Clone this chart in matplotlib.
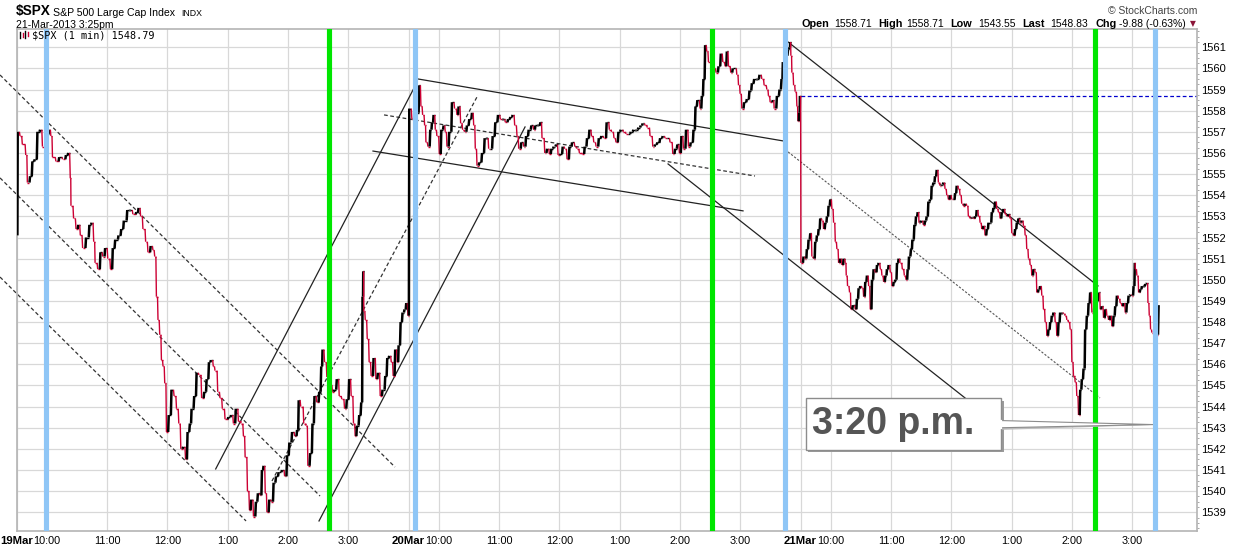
import matplotlib
matplotlib.use("Agg")
import matplotlib.pyplot as plt
from matplotlib.collections import LineCollection
from matplotlib.patches import Rectangle, Polygon
from matplotlib.lines import Line2D

plt.rcParams['font.family'] = ['Liberation Sans', 'DejaVu Sans']

W, H = 1238, 549
DAY = 390  # minutes in a session, 9:30 - 16:00

day_names = ["19Mar", "20Mar", "21Mar"]
hour_names = ["10:00", "11:00", "12:00", "1:00", "2:00", "3:00"]
hour_mins = [30, 90, 150, 210, 270, 330]
price_ticks = list(range(1539, 1562))

# (minutes after 9:30, price)
mar19 = [
    (0, 1552.1), (1, 1557.0), (3.3, 1556.8), (5.6, 1556.4), (9, 1555.9), (10.6, 1554.6), (13.3, 1554.9),
    (15.6, 1555.6), (18, 1555.7), (20.6, 1557.0), (23.3, 1557.1), (25.6, 1556.3), (29, 1556.9), (32.3, 1557.1),
    (34, 1556.8), (35.6, 1555.8), (39, 1555.6), (42.3, 1555.8), (45.6, 1555.7), (49, 1555.9), (51.3, 1556.0),
    (53.3, 1554.8), (54, 1553.5), (56.6, 1552.9), (59, 1552.4), (61.3, 1552.6), (63.3, 1552.1), (65.6, 1551.5),
    (69, 1552.0), (72.3, 1552.6), (74.6, 1552.7), (76.6, 1551.8), (78, 1550.8), (80.6, 1550.5), (83.3, 1551.3),
    (85.6, 1551.1), (88, 1551.5), (90.6, 1551.0), (93.3, 1550.5), (95.6, 1551.5), (98, 1551.9), (101.3, 1552.1),
    (104, 1552.4), (106.6, 1552.8), (110, 1553.3), (112.3, 1553.3), (115.6, 1553.1), (119, 1553.2),
    (121.3, 1553.4), (123.3, 1553.0), (125.6, 1552.4), (128.3, 1551.8), (130.6, 1551.3), (133.3, 1551.6),
    (135.6, 1551.4), (137.3, 1551.1), (139, 1549.2), (140.6, 1548.1), (142.3, 1547.4), (144, 1546.2),
    (145.6, 1545.9), (147.3, 1545.1), (149, 1542.8), (151.3, 1543.6), (154, 1544.8), (156.6, 1544.5),
    (159, 1543.9), (161.3, 1543.2), (163.3, 1542.0), (165.6, 1542.1), (168, 1541.5), (170, 1542.8),
    (172.3, 1543.2), (174, 1543.9), (176.6, 1544.5), (179, 1545.6), (181.3, 1545.5), (184, 1544.4),
    (186.6, 1544.7), (189, 1545.3), (191.3, 1546.1), (193.3, 1546.2), (195.6, 1545.9), (197.3, 1545.7),
    (200, 1544.7), (202.3, 1544.4), (204.6, 1543.9), (207.3, 1543.4), (210.6, 1543.5), (213.3, 1543.6),
    (215.6, 1543.2), (218, 1543.9), (220.6, 1543.3), (223.3, 1543.2), (225.6, 1542.6), (227.3, 1541.6),
    (229.6, 1540.0), (231.6, 1539.1), (233.3, 1539.6), (235.6, 1538.8), (238, 1539.5), (240, 1539.9),
    (242.3, 1539.8), (244, 1541.0), (245.6, 1541.2), (247.3, 1539.9), (249, 1539.0), (251.3, 1539.6),
    (253.3, 1539.5), (255.6, 1540.4), (258, 1540.7), (260.6, 1540.9), (264, 1541.0), (266.6, 1540.7),
    (269, 1541.7), (271.3, 1542.3), (274, 1542.8), (276.6, 1542.6), (279, 1542.9), (280.6, 1544.3),
    (282.6, 1544.0), (285.6, 1543.2), (288, 1543.1), (289.7, 1541.2), (292, 1541.8), (294.3, 1543.2),
    (296.3, 1544.5), (298.6, 1544.2), (301, 1544.7), (303, 1545.9), (304.3, 1546.7), (306.3, 1546.1),
    (308.6, 1545.4), (311.5, 1545.0), (314.2, 1544.7), (316.2, 1544.8), (318.5, 1545.3), (320.9, 1544.5),
    (323.5, 1544.35), (326.2, 1543.9), (328.5, 1544.35), (330.8, 1545.3), (332.8, 1544.5), (335.1, 1543.2),
    (336.8, 1542.6), (338.5, 1543.1), (340.8, 1543.6), (342.8, 1544.2), (344.1, 1549.2), (344.8, 1550.4),
    (345.4, 1548.5), (346.8, 1548.1), (348.8, 1547.2), (350.7, 1546.1), (352.7, 1545.45), (355.1, 1546.3),
    (357.4, 1545.3), (359.4, 1545.6), (361.7, 1544.5), (364, 1544.8), (366.7, 1545.45), (368.7, 1546.3),
    (370.7, 1546.4), (372.7, 1546.1), (374.6, 1545.45), (376.6, 1546.7), (378.6, 1546.1), (380, 1546.9),
    (382, 1548.0), (383.9, 1548.45), (385.9, 1548.6), (387.6, 1548.9), (389.3, 1548.3),
]
mar20 = [
    (0.6, 1558.1), (3.2, 1557.6), (6, 1557.9), (10.5, 1559.2), (12.2, 1558.2), (13.9, 1557.8), (15.9, 1557.3),
    (17.2, 1556.5), (19.2, 1556.3), (21.5, 1557.1), (23.2, 1557.45), (24.8, 1557.8), (26.5, 1557.1),
    (28.1, 1556.8), (30.5, 1555.95), (32.5, 1557.1), (34.8, 1557.3), (36.4, 1557.0), (38.1, 1556.3),
    (40.4, 1557.0), (43.1, 1558.4), (45.7, 1558.1), (48.1, 1557.8), (49.7, 1558.2), (51.7, 1557.4),
    (53.7, 1557.1), (55.7, 1557.0), (58, 1557.3), (60.3, 1557.6), (63, 1557.9), (64.7, 1557.3), (66.3, 1556.2),
    (68, 1555.4), (70.3, 1555.55), (73, 1556.0), (75.6, 1556.7), (77.9, 1556.7), (79.6, 1556.2), (81.3, 1556.2),
    (83.6, 1556.8), (86.2, 1557.45), (88.9, 1557.8), (91.2, 1557.6), (93.5, 1557.6), (96.2, 1557.45),
    (98.9, 1557.6), (101.2, 1557.7), (103.5, 1557.8), (105.5, 1557.3), (107.8, 1556.8), (109.5, 1556.2),
    (112.1, 1556.5), (114.5, 1556.3), (116.8, 1556.8), (119.4, 1557.1), (122.1, 1557.3), (124.4, 1557.1),
    (126.1, 1557.3), (128.7, 1557.3), (131.1, 1557.45), (132.7, 1556.7), (135.4, 1556.0), (137.7, 1556.2),
    (140, 1555.95), (142, 1556.2), (144.3, 1556.3), (146.7, 1556.4), (148.7, 1555.9), (151, 1555.95),
    (153.3, 1556.3), (155.3, 1556.2), (157.6, 1555.7), (160, 1556.3), (162.6, 1556.5), (165.3, 1556.3),
    (167.6, 1556.2), (169.9, 1556.0), (172.6, 1555.95), (175.2, 1556.3), (177.5, 1556.7), (179.9, 1557.1),
    (181.9, 1556.8), (184.2, 1556.5), (186.5, 1556.3), (189.2, 1556.7), (191.8, 1556.8), (194.1, 1556.7),
    (197, 1557.45), (199.7, 1557.1), (202, 1557.0), (204.3, 1556.7), (206.3, 1556.5), (208.7, 1557.0),
    (211, 1557.1), (213.6, 1557.0), (216.3, 1556.9), (218.6, 1556.9), (221, 1557.0), (223.6, 1557.1),
    (226.3, 1557.1), (228.6, 1557.2), (230.9, 1557.3), (232.9, 1557.4), (235.2, 1557.3), (237.5, 1557.2),
    (240.2, 1556.8), (242.9, 1556.3), (245.2, 1556.4), (247.5, 1556.5), (250.2, 1556.7), (252.8, 1556.8),
    (255.1, 1556.7), (257.5, 1556.7), (260.1, 1556.5), (262.8, 1555.95), (265.1, 1556.2), (267.4, 1556.4),
    (269.4, 1556.0), (271.4, 1556.8), (273.4, 1556.2), (276, 1557.1), (278.4, 1556.3), (280.7, 1556.5),
    (283.4, 1557.1), (285.4, 1558.2), (287.3, 1558.5), (290, 1558.1), (291.7, 1558.7), (293.3, 1559.5),
    (295, 1561.1), (296.6, 1560.8), (298.3, 1560.3), (302, 1560.0), (305.9, 1559.8), (308.3, 1560.1),
    (310.6, 1560.7), (312.6, 1560.3), (314.9, 1560.1), (316.6, 1560.8), (318.2, 1560.1), (320.5, 1559.8),
    (322.5, 1560.0), (324.9, 1560.0), (326.5, 1559.7), (328.2, 1559.2), (329.8, 1558.8), (331.5, 1558.1),
    (333.8, 1558.4), (336.5, 1558.55), (339.1, 1558.95), (341.5, 1559.3), (343.8, 1559.5), (346.4, 1559.5),
    (349.1, 1559.7), (351.4, 1559.5), (353.7, 1559.2), (356.4, 1559.0), (358, 1558.7), (359.7, 1558.4),
    (362.4, 1558.5), (363.7, 1558.1), (366.4, 1558.7), (369, 1559.0), (371, 1559.5), (372.3, 1560.3),
    (375, 1560.6), (377.5, 1560.9), (379, 1561.0), (379.6, 1561.25), (380.3, 1560.6), (381.3, 1559.8),
    (383, 1559.2), (384.6, 1558.9), (386.3, 1558.2), (387.3, 1557.5), (388.6, 1557.9), (389.3, 1558.7),
]
mar21 = [
    (0.3, 1550.8), (2.9, 1551.1), (4.6, 1551.0), (6.2, 1551.45), (7.9, 1551.9), (9.6, 1552.2), (11.2, 1551.1),
    (12.9, 1551.0), (14.5, 1551.8), (16.2, 1552.1), (17.9, 1552.4), (19.5, 1552.9), (21.2, 1552.8),
    (22.8, 1552.4), (24.5, 1552.7), (26.2, 1553.0), (27.8, 1553.5), (29.5, 1553.8), (31.1, 1553.35),
    (32.8, 1552.7), (34.5, 1551.8), (36.1, 1551.45), (37.8, 1550.8), (39.4, 1551.0), (41.1, 1550.7),
    (42.8, 1551.0), (44.4, 1550.8), (45.4, 1550.2), (46.7, 1549.7), (48.7, 1549.4), (50, 1548.6), (52, 1548.8),
    (54.4, 1548.6), (56, 1549.1), (57.7, 1549.6), (59.4, 1549.7), (61, 1549.6), (62.7, 1549.2), (64.3, 1549.9),
    (66, 1550.2), (67.7, 1549.7), (69.3, 1548.6), (71, 1550.0), (72.6, 1550.5), (74.3, 1550.35), (76, 1550.7),
    (77.6, 1550.8), (79.3, 1550.5), (80.9, 1550.2), (82.6, 1549.9), (84.3, 1550.2), (85.9, 1550.5),
    (87.6, 1550.7), (89.2, 1550.35), (90.9, 1549.7), (92.6, 1549.9), (94.2, 1550.0), (95.9, 1550.8),
    (97.5, 1551.0), (98.9, 1550.8), (101.2, 1550.5), (103.2, 1550.2), (104.9, 1550.0), (106.5, 1550.5),
    (107.8, 1551.1), (109.8, 1551.45), (111.2, 1551.9), (113.2, 1552.6), (114.8, 1553.0), (116.5, 1553.2),
    (117.8, 1552.7), (119.8, 1552.8), (122.1, 1552.6), (123.8, 1552.8), (125.4, 1553.0), (127.1, 1553.7),
    (128.8, 1553.8), (130.4, 1554.45), (132.1, 1554.6), (133.7, 1554.9), (135.4, 1555.2), (137.1, 1554.6),
    (138.7, 1554.45), (140.4, 1554.5), (142, 1554.6), (143.7, 1554.3), (145.4, 1554.0), (147, 1553.8),
    (148.7, 1554.0), (150.3, 1553.8), (152, 1553.8), (153.7, 1554.1), (155.3, 1554.45), (157, 1554.3),
    (158.6, 1554.0), (160.3, 1553.6), (162, 1553.5), (163.6, 1553.6), (165.3, 1553.5), (166.9, 1553.0),
    (168.6, 1552.9), (170.3, 1552.95), (171.9, 1552.9), (173.6, 1553.0), (175.2, 1553.3), (176.9, 1553.0),
    (178.6, 1552.7), (180.2, 1552.4), (181.9, 1552.55), (183.5, 1552.1), (185.2, 1552.4), (186.9, 1552.7),
    (188.5, 1552.7), (190.2, 1553.2), (191.8, 1553.4), (193.5, 1553.7), (195.2, 1553.35), (196.8, 1553.2),
    (198.5, 1552.9), (200.1, 1553.2), (201.8, 1553.35), (203.5, 1553.1), (205.1, 1553.0), (206.8, 1553.1),
    (208.4, 1552.9), (210.1, 1552.2), (211.8, 1552.1), (213.4, 1552.4), (215.1, 1552.7), (216.7, 1552.9),
    (218.4, 1552.7), (220.1, 1552.8), (221.7, 1552.55), (223.4, 1552.1), (225, 1551.45), (226.7, 1551.0),
    (228.4, 1550.7), (230, 1550.2), (231.7, 1550.5), (233.3, 1550.35), (235, 1549.4), (236.7, 1549.55),
    (238.3, 1549.7), (240, 1549.25), (241.6, 1548.6), (243.3, 1548.0), (245, 1547.35), (246.6, 1547.65),
    (248.3, 1548.0), (249.9, 1548.3), (251.6, 1548.45), (253.3, 1548.0), (254.9, 1547.35), (256.6, 1548.0),
    (258.2, 1548.45), (259.9, 1548.45), (261.6, 1548.4), (263.2, 1548.3), (264.9, 1548.1), (266.5, 1548.0),
    (268.2, 1547.65), (269.9, 1546.1), (271.5, 1545.45), (273.2, 1545.15), (274.8, 1544.5), (276.5, 1543.6),
    (278.2, 1544.8), (279.8, 1545.3), (281.5, 1545.8), (283.1, 1547.65), (284.8, 1548.3), (286.5, 1548.9),
    (288.1, 1549.4), (289.8, 1548.45), (292.5, 1549.0), (296.4, 1549.4), (298.1, 1548.6), (299.7, 1548.75),
    (301.4, 1548.2), (303.1, 1548.6), (304.7, 1548.3), (306.4, 1548.1), (308, 1548.3), (309.7, 1547.8),
    (311.4, 1548.3), (313, 1548.75), (314.7, 1549.25), (316.3, 1549.1), (318, 1548.9), (319.7, 1548.75),
    (321.3, 1548.9), (323, 1548.45), (324.6, 1548.9), (326.3, 1549.25), (328, 1549.3), (329.6, 1549.25),
    (331.3, 1549.7), (332.5, 1550.8), (333, 1550.5), (334.6, 1550.2), (336.3, 1549.4), (337.9, 1549.55),
    (339.6, 1549.7), (341.2, 1549.7), (342.9, 1549.8), (344.6, 1549.85), (345.6, 1548.9), (346.9, 1548.3),
    (348.2, 1547.65), (349.5, 1547.5), (352, 1547.4), (356.2, 1548.8),
]

open_21 = 1558.71

# marker bars, in minutes counted from 19Mar 9:30
blue_marks = [29, 396.3, 764.8, 1132.9]
green_marks = [310.7, 692.2, 1073.2]

# drawn trend lines: (x0, p0, x1, p1)
dashed_lines = [
    (-16.6, 1559.69, 376.4, 1541.14),
    (-16.6, 1554.82, 301.8, 1539.77),
    (-16.6, 1550.13, 228.2, 1538.59),
    (254.0, 1540.48, 459.0, 1558.74),
    (365.5, 1557.80, 734.6, 1554.91),
]
solid_lines = [
    (198.0, 1541.05, 395.3, 1559.07),
    (300.8, 1538.59, 505.8, 1557.23),
    (399.3, 1559.50, 762.5, 1556.57),
    (354.5, 1556.09, 722.7, 1553.26),
    (648.1, 1555.48, 943.6, 1544.41),
    (767.5, 1561.25, 1075.9, 1549.71),
]
dotted_lines = [
    (767.5, 1556.05, 1077.9, 1544.41),
]

RED = '#cc0033'
GRID = '#d8d8d8'
FRAME = '#b4b4b4'

fig = plt.figure(figsize=(W / 100, H / 100), dpi=100)
ax = fig.add_axes([16.7 / W, (H - 531) / H, (1197 - 16.7) / W, (531 - 29.3) / H])
ax.set_xlim(0, 1174.4)
ax.set_ylim(1538.115, 1561.85)

for s in ax.spines.values():
    s.set_color(FRAME)
    s.set_linewidth(1.2)

# grid
grid_x = []
for d in range(3):
    grid_x.append(d * DAY)
    grid_x += [d * DAY + m for m in hour_mins]
for gx in grid_x:
    ax.axvline(gx, color=GRID, lw=0.9, zorder=0)
for p in price_ticks:
    ax.axhline(p, color=GRID, lw=0.9, zorder=0)

ax.set_xticks([])
ax.yaxis.tick_right()
ax.set_yticks(price_ticks)
ax.set_yticklabels([str(p) for p in price_ticks])
ax.set_yticks([p + f for p in range(1538, 1562) for f in (0.25, 0.5, 0.75)], minor=True)
ax.tick_params(axis='y', which='major', length=0, pad=3, labelsize=8)
ax.tick_params(axis='y', which='minor', length=1.5, width=0.6, color='#999999')

# x labels
lab_y = -(541 - 531) / (531 - 29.3)
for d, name in enumerate(day_names):
    ax.text(d * DAY, lab_y, name, transform=ax.get_xaxis_transform(), ha='center', va='center',
            fontsize=8.2, fontweight='bold', clip_on=False)
    for m, hn in zip(hour_mins, hour_names):
        ax.text(d * DAY + m, lab_y, hn, transform=ax.get_xaxis_transform(), ha='center', va='center',
                fontsize=7.8, clip_on=False)

# price path, drawn as steps so it reads like 1-min bars
xs, ys = [], []
for d, day in enumerate([mar19, mar20, mar21]):
    for m, p in day:
        xs.append(d * DAY + m)
        ys.append(p)
segs, cols, lws = [], [], []
prev_col = 'black'
for i in range(1, len(xs)):
    up = ys[i] >= ys[i - 1]
    col = 'black' if up else RED
    # short flat piece then the move
    xm = xs[i] - min(0.6, (xs[i] - xs[i - 1]) * 0.3)
    segs.append([(xs[i - 1], ys[i - 1]), (xm, ys[i - 1])])
    cols.append(prev_col)
    lws.append(1.0)
    segs.append([(xm, ys[i - 1]), (xs[i], ys[i])])
    cols.append(col)
    lws.append(1.8 if up else 1.0)
    prev_col = col
ax.add_collection(LineCollection(segs, colors=cols, linewidths=lws, zorder=3, capstyle='butt'))

# trend lines
for x0, p0, x1, p1 in dashed_lines:
    ax.plot([x0, x1], [p0, p1], color='#333333', lw=0.9, dashes=(3, 2), zorder=2, clip_on=False)
for x0, p0, x1, p1 in solid_lines:
    ax.plot([x0, x1], [p0, p1], color='#222222', lw=0.9, zorder=2)
for x0, p0, x1, p1 in dotted_lines:
    ax.plot([x0, x1], [p0, p1], color='#555555', lw=0.8, dashes=(2, 1.5), zorder=2)

ax.plot([2 * DAY, 1174.4], [open_21, open_21], color='#0000cc', lw=0.9, dashes=(3, 2), zorder=2)

# marker bars
for b in blue_marks:
    ax.axvline(b, color='#8fc6f6', lw=3.7, zorder=5)
for g in green_marks:
    ax.axvline(g, color='#00e600', lw=3.7, zorder=5)

# callout "3:20 p.m."
ax.add_patch(Rectangle((787.5, 1541.83), 194.4, 2.44, facecolor='#9a9a9a', edgecolor='none', zorder=6))
ax.add_patch(Rectangle((785.1, 1541.95), 194.3, 2.44, facecolor='white', edgecolor='#8c8c8c', lw=1.0, zorder=7))
ax.add_patch(Polygon([(979.4, 1543.32), (1130.6, 1543.13), (979.4, 1542.90)], closed=True,
                     facecolor='#bdbdbd', edgecolor='none', zorder=6))
ax.add_patch(Polygon([(979.4, 1543.34), (1130.6, 1543.15), (979.4, 1543.0)], closed=True,
                     facecolor='white', edgecolor='#8c8c8c', lw=0.8, zorder=7))
ax.plot([979.0, 979.0], [1543.0, 1543.32], color='white', lw=1.6, zorder=8)
ax.text(872, 1543.17, "3:20 p.m.", ha='center', va='center', fontsize=27, fontweight='bold',
        color='#555555', zorder=9)


def ftxt(x, y, s, **kw):
    fig.text(x / W, 1 - y / H, s, **kw)


# header
ftxt(16, 15.5, "$SPX", fontsize=9.8, fontweight='bold', va='baseline')
ftxt(53, 15.5, "S&P 500 Large Cap Index", fontsize=7.6, va='baseline')
ftxt(181, 15.5, "INDX", fontsize=6.3, va='baseline')
ftxt(16, 27.5, "21-Mar-2013 3:25pm", fontsize=7.5, va='baseline')
ftxt(1197, 14, "\u00a9 StockCharts.com", fontsize=7.5, ha='right', va='baseline', color='#444444')

stats = [
    (802, "Open", True), (834, "1558.71", False), (878, "High", True), (906.7, "1558.71", False),
    (950.7, "Low", True), (978.3, "1543.55", False), (1022.7, "Last", True), (1050.7, "1548.83", False),
    (1095, "Chg", True), (1119.3, "-9.88 (-0.63%)", False),
]
for sx, s, bold in stats:
    ftxt(sx, 27, s, fontsize=7.8 if bold else 7.5, fontweight='bold' if bold else 'normal', va='baseline')
ftxt(1189.5, 26.5, "\u25bc", fontsize=5.5, va='baseline', color='#8b1538', family='DejaVu Sans')

# legend line inside chart
ftxt(32, 39, "$SPX (1 min) 1548.79", fontsize=7.3, va='baseline', family='DejaVu Sans Mono', zorder=1)
for ix, (y0, y1, c) in enumerate([(32, 38, 'black'), (33, 37, RED), (31, 38, 'black'), (32, 36, RED)]):
    x = 20 + ix * 2.6
    fig.add_artist(Line2D([x / W, x / W], [1 - y0 / H, 1 - y1 / H], color=c, lw=1.0, zorder=1))

fig.savefig("out.png", dpi=100)
